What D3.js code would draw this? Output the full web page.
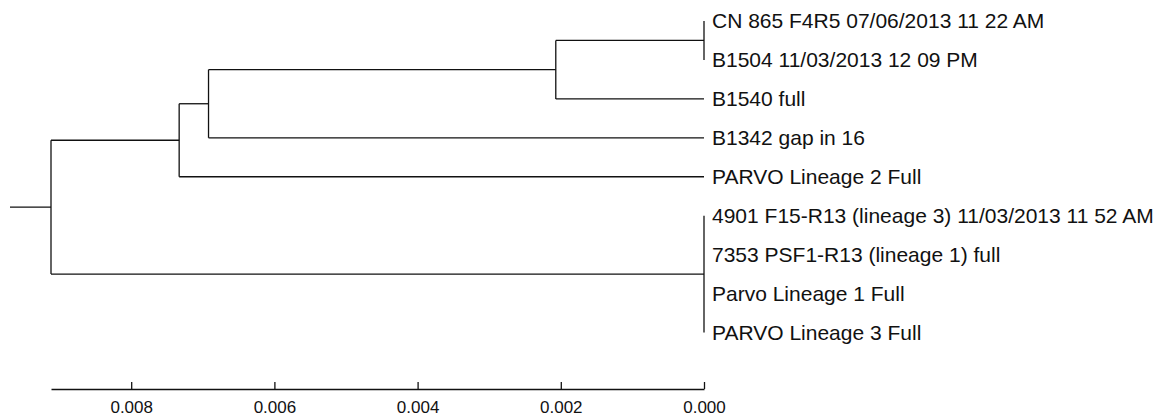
<!DOCTYPE html>
<html>
<head>
<meta charset="utf-8">
<script src="https://cdn.jsdelivr.net/npm/d3@7"></script>
<style>
  body { margin: 0; background: #fff; }
  svg { display: block; }
</style>
</head>
<body>
<div id="tree"></div>
<script>
// leaf labels, top to bottom
var leafLabels = [
  "CN 865 F4R5 07/06/2013 11 22 AM",
  "B1504 11/03/2013 12 09 PM",
  "B1540 full",
  "B1342 gap in 16",
  "PARVO Lineage 2 Full",
  "4901 F15-R13 (lineage 3) 11/03/2013 11 52 AM",
  "7353 PSF1-R13 (lineage 1) full",
  "Parvo Lineage 1 Full",
  "PARVO Lineage 3 Full"
];
var leafParents = ["n4", "n4", "n3", "n2", "n1", "n5", "n5", "n5", "n5"];

// internal nodes and their heights (distance from tips)
var nodeIds     = ["root", "n1", "n2", "n3", "n4", "n5"];
var nodeParents = ["",     "root", "n1", "n2", "n3", "root"];
var nodeHeights = [0.00912, 0.00733, 0.00692, 0.00207, 0.0, 0.0];

var tickValues = [0.008, 0.006, 0.004, 0.002, 0.000];

// build table for stratify
var rows = nodeIds.map(function(id, i) {
  return { id: id, parent: nodeParents[i], height: nodeHeights[i], label: null };
});
leafLabels.forEach(function(name, i) {
  rows.push({ id: "leaf" + i, parent: leafParents[i], height: 0, label: name });
});

var root = d3.stratify()
    .id(function(d) { return d.id; })
    .parentId(function(d) { return d.parent || null; })(rows);

var width = 1161, height = 419;

var x = d3.scaleLinear()
    .domain([nodeHeights[0], 0])
    .range([51, 704]);

var y = d3.scalePoint()
    .domain(leafLabels)
    .range([21, 332.5]);

// positions: leaves from scale, inner nodes midway between first and last child
root.eachAfter(function(n) {
  n.px = x(n.data.height);
  if (n.children) {
    n.py = (n.children[0].py + n.children[n.children.length - 1].py) / 2;
  } else {
    n.py = y(n.data.label);
  }
});

var svg = d3.select("#tree").append("svg")
    .attr("width", width)
    .attr("height", height);

svg.append("rect")
    .attr("width", width)
    .attr("height", height)
    .attr("fill", "#fff");

var g = svg.append("g")
    .attr("fill", "none")
    .attr("stroke", "#111")
    .attr("stroke-width", 1.3);

// horizontal branches
g.selectAll(".hbranch")
    .data(root.descendants().filter(function(n) { return n.parent; }))
  .enter().append("line")
    .attr("class", "hbranch")
    .attr("x1", function(n) { return n.parent.px; })
    .attr("x2", function(n) { return n.px; })
    .attr("y1", function(n) { return n.py; })
    .attr("y2", function(n) { return n.py; });

// vertical connectors
g.selectAll(".vbranch")
    .data(root.descendants().filter(function(n) { return n.children; }))
  .enter().append("line")
    .attr("class", "vbranch")
    .attr("x1", function(n) { return n.px; })
    .attr("x2", function(n) { return n.px; })
    .attr("y1", function(n) { return n.children[0].py; })
    .attr("y2", function(n) { return n.children[n.children.length - 1].py; });

// root stub
g.append("line")
    .attr("x1", root.px - 41)
    .attr("x2", root.px)
    .attr("y1", root.py)
    .attr("y2", root.py);

// leaf labels
svg.selectAll(".leaf")
    .data(root.leaves())
  .enter().append("text")
    .attr("class", "leaf")
    .attr("x", function(n) { return n.px + 8; })
    .attr("y", function(n) { return n.py; })
    .attr("dy", "0.35em")
    .attr("font-family", "Arial, 'Liberation Sans', sans-serif")
    .attr("font-size", "21px")
    .attr("fill", "#111")
    .text(function(n) { return n.data.label; });

// scale bar
var axis = svg.append("g")
    .attr("transform", "translate(0,389)")
    .call(d3.axisBottom(x)
      .tickValues(tickValues)
      .tickFormat(d3.format(".3f"))
      .tickSizeInner(-7)
      .tickSizeOuter(0)
      .tickPadding(12));

axis.select(".domain").attr("stroke", "#111").attr("stroke-width", 1.3);
axis.selectAll(".tick line").attr("stroke", "#111").attr("stroke-width", 1.3);
axis.selectAll(".tick text")
    .attr("font-family", "Arial, 'Liberation Sans', sans-serif")
    .attr("font-size", "17px")
    .attr("fill", "#111");
</script>
</body>
</html>
